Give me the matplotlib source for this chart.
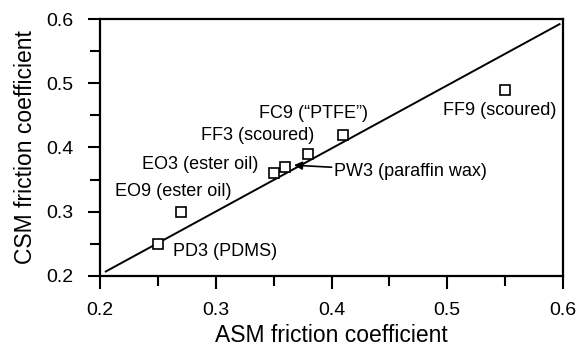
import matplotlib.pyplot as plt
from matplotlib.ticker import MultipleLocator

plt.rcParams['font.family'] = ['Liberation Sans', 'DejaVu Sans']

# ASM vs CSM friction coefficients per sample
samples = ["PD3", "EO9", "EO3", "PW3", "FF3", "FC9", "FF9"]
asm_mu = [0.25, 0.27, 0.35, 0.36, 0.38, 0.41, 0.55]
csm_mu = [0.25, 0.30, 0.36, 0.37, 0.39, 0.42, 0.49]

# label text and where it sits (data coords)
labels = {
    "PD3": ("PD3 (PDMS)", 0.2635, 0.238, "left"),
    "EO9": ("EO9 (ester oil)", 0.213, 0.331, "left"),
    "EO3": ("EO3 (ester oil)", 0.236, 0.374, "left"),
    "FF3": ("FF3 (scoured)", 0.287, 0.418, "left"),
    "FC9": ("FC9 (\u201cPTFE\u201d)", 0.3845, 0.4535, "center"),
    "FF9": ("FF9 (scoured)", 0.5945, 0.458, "right"),
}

fig = plt.figure(figsize=(5.79, 3.48), dpi=100)
ax = fig.add_axes([0.1727, 0.2069, 0.7997, 0.7385])

# equality line
ax.plot([0.205, 0.597], [0.207, 0.592], color="black", lw=1.4, zorder=1)

ax.plot(asm_mu, csm_mu, linestyle="none", marker="s", markersize=7,
        markerfacecolor="white", markeredgecolor="black", markeredgewidth=1.2,
        zorder=2)

for key, (txt, x, y, ha) in labels.items():
    ax.text(x, y, txt, fontsize=13, ha=ha, va="center")

# PW3 with an arrow
ax.annotate("PW3 (paraffin wax)", xy=(0.3675, 0.3725), xytext=(0.4025, 0.3625),
            fontsize=13, ha="left", va="center",
            arrowprops=dict(arrowstyle="-|>", color="black", lw=1.2,
                            mutation_scale=12, shrinkA=0, shrinkB=0))

ax.set_xlim(0.2, 0.6)
ax.set_ylim(0.2, 0.6)
ax.xaxis.set_major_locator(MultipleLocator(0.1))
ax.yaxis.set_major_locator(MultipleLocator(0.1))
ax.xaxis.set_minor_locator(MultipleLocator(0.05))
ax.yaxis.set_minor_locator(MultipleLocator(0.05))
ax.tick_params(which="major", direction="out", length=9, width=1.5, labelsize=14)
ax.tick_params(axis="y", which="major", pad=10)
ax.tick_params(axis="x", which="major", pad=10)
ax.tick_params(which="minor", direction="out", length=7, width=1.5)

for s in ax.spines.values():
    s.set_linewidth(1.6)

ax.set_xlabel("ASM friction coefficient", fontsize=16.5, labelpad=3)
ax.set_ylabel("CSM friction coefficient", fontsize=16.5, labelpad=7)

fig.savefig("out.png", dpi=100)
